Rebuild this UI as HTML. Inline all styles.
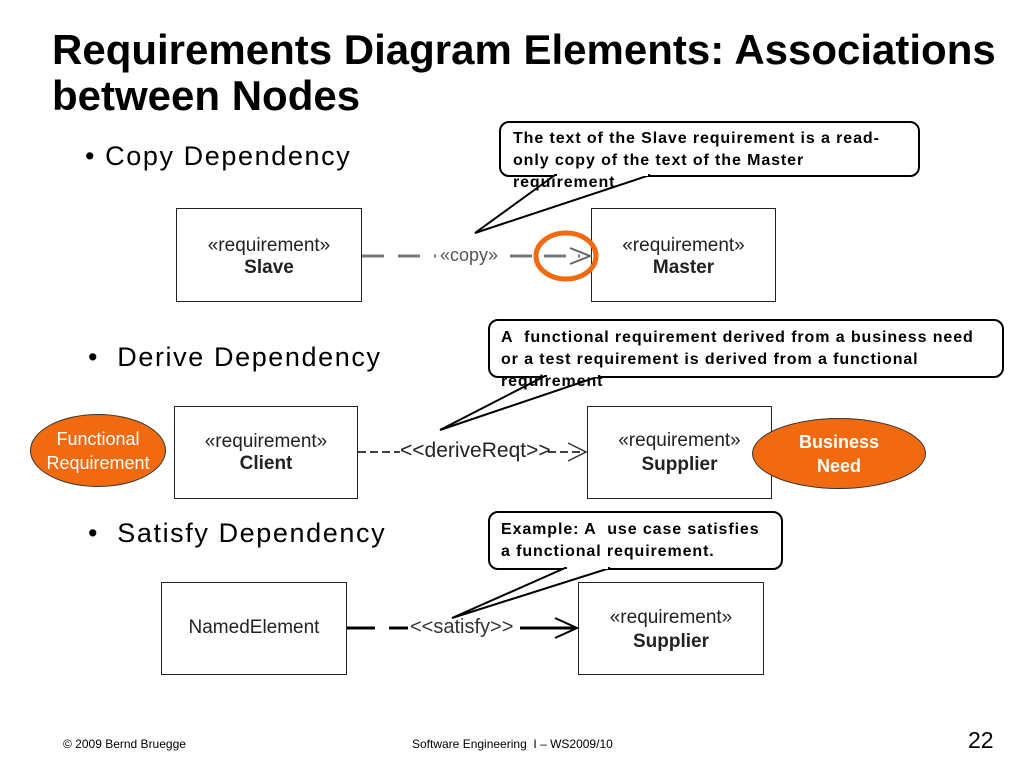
<!DOCTYPE html>
<html><head><meta charset="utf-8"><style>
body{margin:0;width:1024px;height:768px;background:#fff;position:relative;overflow:hidden;font-family:"Liberation Sans",sans-serif;}
.a{position:absolute;white-space:nowrap}
.box{position:absolute;border:1.5px solid #222;background:#fff;text-align:center;font-size:19px;color:#222;box-sizing:border-box}
.call{position:absolute;border:2px solid #000;border-radius:10px;background:#fff;box-sizing:border-box}
.ct{position:absolute;white-space:nowrap;font-weight:bold;font-size:16px;line-height:22px;letter-spacing:0.9px}
.bl{position:absolute;white-space:nowrap;font-size:27px;letter-spacing:1.6px}
.ov{position:absolute;background:#f26a10;border:1.5px solid #333;border-radius:50%;color:#fff;text-align:center;font-size:18px;line-height:24px;box-sizing:border-box;display:flex;align-items:center;justify-content:center}
</style></head><body>
<div class="a" style="left:52px;top:27px;font-size:42px;font-weight:bold;line-height:46px">Requirements Diagram Elements: Associations<br>between Nodes</div>
<div class="bl" style="left:85px;top:141px">• Copy Dependency</div>
<div class="bl" style="left:88px;top:342px">• &nbsp;Derive Dependency</div>
<div class="bl" style="left:88px;top:518px">• &nbsp;Satisfy Dependency</div>

<div class="box" style="left:176px;top:208px;width:186px;height:94px;padding-top:26px;line-height:22px">«requirement»<br><b>Slave</b></div>
<div class="box" style="left:591px;top:208px;width:185px;height:94px;padding-top:26px;line-height:22px">«requirement»<br><b>Master</b></div>
<div class="box" style="left:174px;top:406px;width:184px;height:93px;padding-top:24px;line-height:22px">«requirement»<br><b>Client</b></div>
<div class="box" style="left:587px;top:406px;width:185px;height:93px;padding-top:22px;line-height:24px">«requirement»<br><b>Supplier</b></div>
<div class="box" style="left:161px;top:582px;width:186px;height:93px;padding-top:34px">NamedElement</div>
<div class="box" style="left:578px;top:582px;width:186px;height:93px;padding-top:23px;line-height:24px">«requirement»<br><b>Supplier</b></div>

<svg class="a" style="left:0;top:0" width="1024" height="768">
<line x1="362" y1="256" x2="436" y2="256" stroke="#777" stroke-width="3" stroke-dasharray="22,14"/>
<line x1="510" y1="256" x2="580" y2="256" stroke="#777" stroke-width="3" stroke-dasharray="22,12"/>
<polyline points="570,248 590,256 570,264" fill="none" stroke="#666" stroke-width="2"/>
<ellipse cx="566" cy="256" rx="30" ry="23" fill="none" stroke="#f26a10" stroke-width="5"/>
<line x1="358" y1="452" x2="400" y2="452" stroke="#000" stroke-width="1.5" stroke-dasharray="8,4"/>
<line x1="548" y1="452" x2="586" y2="452" stroke="#000" stroke-width="1.5" stroke-dasharray="8,4"/>
<polyline points="568,443 586,452 568,461" fill="none" stroke="#333" stroke-width="1.5"/>
<line x1="347" y1="628" x2="408" y2="628" stroke="#000" stroke-width="3" stroke-dasharray="28,14"/>
<line x1="520" y1="628" x2="576" y2="628" stroke="#000" stroke-width="3"/>
<polyline points="555,618 577,628 555,638" fill="none" stroke="#000" stroke-width="2"/>
</svg>
<div class="a" style="left:440px;top:245px;font-size:18px;color:#555">«copy»</div>
<div class="a" style="left:400px;top:439px;font-size:21px;color:#222">&lt;&lt;deriveReqt&gt;&gt;</div>
<div class="a" style="left:410px;top:616px;font-size:20px;color:#333">&lt;&lt;satisfy&gt;&gt;</div>

<div class="call" style="left:499px;top:121px;width:421px;height:56px"></div>
<div class="call" style="left:488px;top:319px;width:516px;height:59px"></div>
<div class="call" style="left:488px;top:511px;width:295px;height:59px"></div>
<svg class="a" style="left:0;top:0" width="1024" height="768">
<polygon points="555,175 475,233 650,175" fill="#fff" stroke="#000" stroke-width="2"/>
<line x1="557" y1="174" x2="648" y2="174" stroke="#fff" stroke-width="4"/>
<polygon points="545,376 440,430 600,376" fill="#fff" stroke="#000" stroke-width="2"/>
<line x1="547" y1="375" x2="598" y2="375" stroke="#fff" stroke-width="4"/>
<polygon points="565,568 452,618 610,568" fill="#fff" stroke="#000" stroke-width="2"/>
<line x1="567" y1="567" x2="608" y2="567" stroke="#fff" stroke-width="4"/>
</svg>
<div class="ct" style="left:513px;top:128px">The text of the Slave requirement is a read-<br>only copy of the text of the Master<br>requirement</div>
<div class="ct" style="left:501px;top:327px">A&nbsp; functional requirement derived from a business need<br>or a test requirement is derived from a functional<br>requirement</div>
<div class="ct" style="left:501px;top:519px">Example: A&nbsp; use case satisfies<br>a functional requirement.</div>

<div class="ov" style="left:30px;top:414px;width:136px;height:73px">Functional<br>Requirement</div>
<div class="ov" style="left:752px;top:418px;width:174px;height:71px;font-weight:bold">Business<br>Need</div>

<div class="a" style="left:63px;top:737px;font-size:12px">© 2009 Bernd Bruegge</div>
<div class="a" style="left:412px;top:737px;font-size:12px">Software Engineering&nbsp; I – WS2009/10</div>
<div class="a" style="left:968px;top:727px;font-size:23px">22</div>
</body></html>
